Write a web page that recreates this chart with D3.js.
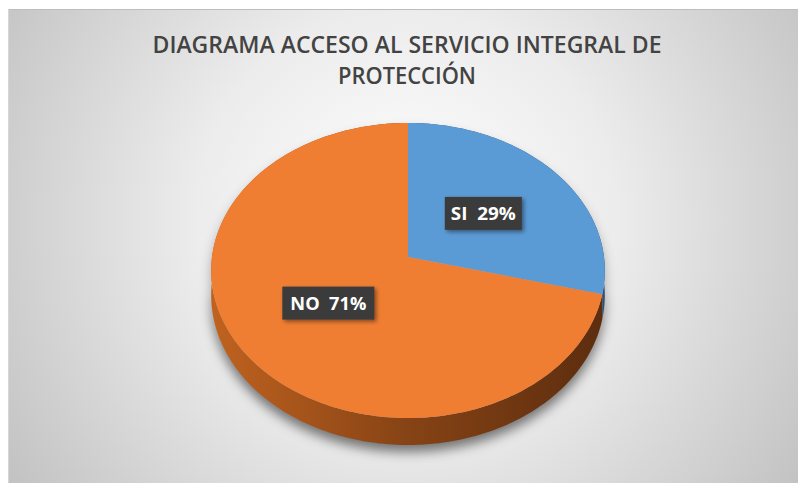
<!DOCTYPE html>
<html>
<head>
<meta charset="utf-8">
<script src="https://cdn.jsdelivr.net/npm/d3@7"></script>
<style>
  body { margin: 0; background: #fff; }
  text { font-family: "Open Sans", "Noto Sans", sans-serif; }
</style>
</head>
<body>
<div id="chart"></div>
<script>
// data
const categories = ["SI", "NO"];
const values = [29, 71];
const labelTexts = ["SI  29%", "NO  71%"];
const titleLines = ["DIAGRAMA ACCESO AL SERVICIO INTEGRAL DE", "PROTECCIÓN"];

const W = 798, H = 483;

const svg = d3.select("#chart")
  .append("svg")
    .attr("width", W)
    .attr("height", H);

const defs = svg.append("defs");

// background gradient of the chart area
const bg = defs.append("radialGradient")
    .attr("id", "bg")
    .attr("gradientUnits", "userSpaceOnUse")
    .attr("cx", 405).attr("cy", 220).attr("r", 470);
bg.append("stop").attr("offset", 0).attr("stop-color", "#ffffff");
bg.append("stop").attr("offset", 0.45).attr("stop-color", "#ececec");
bg.append("stop").attr("offset", 1).attr("stop-color", "#c3c3c3");

// pie shadow + label shadow
const sh = defs.append("filter").attr("id", "pieShadow")
    .attr("x", "-20%").attr("y", "-20%").attr("width", "140%").attr("height", "140%");
sh.append("feGaussianBlur").attr("stdDeviation", 6);

const lsh = defs.append("filter").attr("id", "lblShadow")
    .attr("x", "-30%").attr("y", "-30%").attr("width", "160%").attr("height", "160%");
lsh.append("feDropShadow").attr("dx", 2).attr("dy", 2).attr("stdDeviation", 2)
    .attr("flood-color", "#000").attr("flood-opacity", 0.45);

// side wall gradients
const sideStops = {
  SI: ["#3f6f9c", "#2c5278"],
  NO: ["#c0621f", "#864315", "#5c2d0e"]
};
categories.forEach(c => {
  const g = defs.append("linearGradient")
      .attr("id", "side-" + c)
      .attr("gradientUnits", "userSpaceOnUse")
      .attr("x1", 212).attr("x2", 605).attr("y1", 0).attr("y2", 0);
  sideStops[c].forEach((s, i, a) => {
    g.append("stop").attr("offset", i / (a.length - 1)).attr("stop-color", s);
  });
});

// chart area
svg.append("rect")
    .attr("x", 8).attr("y", 9)
    .attr("width", W - 8).attr("height", H - 9)
    .attr("fill", "url(#bg)");
svg.append("line")
    .attr("x1", 8).attr("x2", W).attr("y1", 9.5).attr("y2", 9.5)
    .attr("stroke", "#bdbdbd");
svg.append("line")
    .attr("x1", 8.5).attr("x2", 8.5).attr("y1", 9).attr("y2", H)
    .attr("stroke", "#d6d6d6");

// title
svg.selectAll(".title")
  .data(titleLines)
  .join("text")
    .attr("class", "title")
    .attr("x", 407)
    .attr("y", (d, i) => 53 + i * 31)
    .attr("text-anchor", "middle")
    .attr("textLength", (d, i) => i === 0 ? 509 : 138)
    .attr("lengthAdjust", "spacingAndGlyphs")
    .style("font-size", "23px")
    .style("font-weight", 600)
    .style("fill", "#434343")
    .text(d => d);

// 3D pie projection (tilted disc seen in perspective)
const cx = 408, cy = 257, A = 196, B = 146.3, k = 0.0915, depth = 24.5;
function proj(a, r, down) {
  const w = 1 + k * r * Math.cos(a);
  return [cx + A * r * Math.sin(a) / w,
          cy - B * r * Math.cos(a) / w + (down ? depth / w : 0)];
}
function arcPts(a0, a1, down) {
  const n = Math.max(2, Math.ceil(Math.abs(a1 - a0) / 0.02));
  return d3.range(n + 1).map(i => proj(a0 + (a1 - a0) * i / n, 1, down));
}

const color = d3.scaleOrdinal().domain(categories).range(["#5B9BD5", "#EF7E33"]);
const pie = d3.pie().sort(null).value(d => d.value);
const arcs = pie(categories.map((c, i) => ({ cat: c, value: values[i] })));
const line = d3.line().curve(d3.curveLinearClosed);

// shadow under the whole pie
const gShadow = svg.append("g").attr("filter", "url(#pieShadow)")
    .attr("transform", "translate(0,7)");
gShadow.append("path")
    .attr("d", line(arcPts(0, 2 * Math.PI, false).concat(arcPts(2 * Math.PI, 0, true))))
    .attr("fill", "#000").attr("opacity", 0.3);
gShadow.append("path")
    .attr("d", line(arcPts(0, 2 * Math.PI, true)))
    .attr("fill", "#000").attr("opacity", 0.3);

// side walls
svg.selectAll(".wall")
  .data(arcs)
  .join("path")
    .attr("class", "wall")
    .attr("d", d => line(arcPts(d.startAngle, d.endAngle, false)
                    .concat(arcPts(d.endAngle, d.startAngle, true))))
    .attr("fill", d => "url(#side-" + d.data.cat + ")");

// top faces
svg.selectAll(".slice")
  .data(arcs)
  .join("path")
    .attr("class", "slice")
    .attr("d", d => line([proj(0, 0, false)].concat(arcPts(d.startAngle, d.endAngle, false))))
    .attr("fill", d => color(d.data.cat));

// data labels
const lbl = svg.selectAll(".lbl")
  .data(arcs)
  .join("g")
    .attr("class", "lbl")
    .attr("transform", d => {
      const p = proj((d.startAngle + d.endAngle) / 2, 0.5, false);
      return `translate(${p[0]},${p[1]})`;
    });

lbl.append("rect")
    .attr("x", (d, i) => i === 0 ? -38.5 : -46)
    .attr("y", -16.5)
    .attr("width", (d, i) => i === 0 ? 77 : 92)
    .attr("height", 33)
    .attr("fill", "#3b3b3b")
    .attr("filter", "url(#lblShadow)");

lbl.append("text")
    .attr("text-anchor", "middle")
    .attr("y", 6.5)
    .attr("textLength", (d, i) => i === 0 ? 65 : 76)
    .attr("lengthAdjust", "spacingAndGlyphs")
    .style("white-space", "pre")
    .style("font-size", "18px")
    .style("font-weight", 700)
    .style("fill", "#ffffff")
    .text((d, i) => labelTexts[i]);
</script>
</body>
</html>
